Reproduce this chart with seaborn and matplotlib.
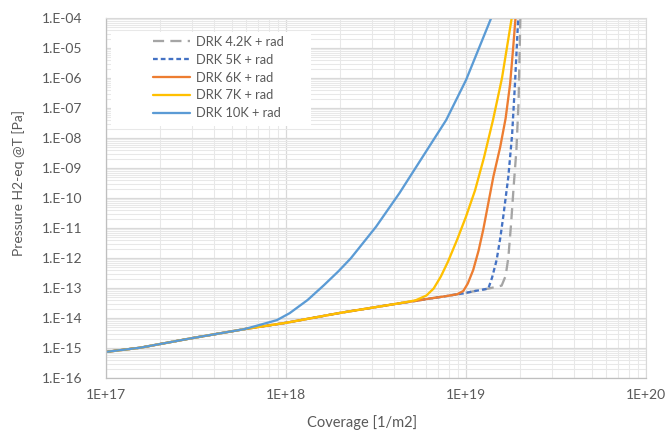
import numpy as np
import pandas as pd
import matplotlib
matplotlib.use("Agg")
import matplotlib.pyplot as plt
from matplotlib.patches import Rectangle
from matplotlib.ticker import FixedLocator, LogLocator, NullFormatter
import seaborn as sns

# ---- data: log10(coverage [1/m2]) and log10(pressure [Pa]) ----
labels = ["DRK 4.2K + rad", "DRK 5K + rad", "DRK 6K + rad", "DRK 7K + rad", "DRK 10K + rad"]
colors = ["#A5A5A5", "#4472C4", "#ED7D31", "#FFC000", "#5B9BD5"]

x42 = [17.0, 17.19, 17.47, 17.77, 18.0, 18.3, 18.63, 18.72, 18.80, 18.88, 18.95, 18.985,
       19.05, 19.124, 19.198, 19.22, 19.235, 19.25, 19.265, 19.28, 19.292, 19.302]
y42 = [-15.13, -14.99, -14.68, -14.37, -14.16, -13.83, -13.51, -13.43, -13.35, -13.28, -13.21, -13.18,
       -13.10, -13.02, -12.92, -12.60, -12.0, -10.9, -9.6, -8.4, -6.8, -4.0]

x5 = [17.0, 17.19, 17.47, 17.77, 18.0, 18.3, 18.63, 18.72, 18.80, 18.88, 18.95, 18.985,
      19.05, 19.124, 19.145, 19.17, 19.19, 19.207, 19.235, 19.256, 19.272, 19.29]
y5 = [-15.13, -14.99, -14.68, -14.37, -14.16, -13.83, -13.51, -13.43, -13.35, -13.28, -13.21, -13.18,
      -13.10, -13.02, -12.65, -12.07, -11.35, -10.62, -9.30, -7.90, -6.20, -4.0]

x6 = [17.0, 17.19, 17.47, 17.77, 18.0, 18.3, 18.63, 18.72, 18.80, 18.88, 18.95, 18.985,
      19.01, 19.04, 19.07, 19.096, 19.152, 19.19, 19.22, 19.245, 19.262, 19.275]
y6 = [-15.13, -14.99, -14.68, -14.37, -14.16, -13.83, -13.51, -13.43, -13.35, -13.28, -13.21, -13.10,
      -12.85, -12.40, -11.75, -11.05, -9.29, -8.30, -7.35, -6.20, -5.0, -4.0]

x7 = [17.0, 17.19, 17.47, 17.77, 18.0, 18.3, 18.63, 18.72, 18.78, 18.82, 18.86, 18.90,
      18.95, 19.00, 19.05, 19.10, 19.15, 19.20, 19.254]
y7 = [-15.13, -14.99, -14.68, -14.37, -14.16, -13.83, -13.51, -13.41, -13.25, -13.02, -12.62, -12.12,
      -11.40, -10.62, -9.75, -8.65, -7.40, -6.0, -4.0]

x10 = [17.0, 17.19, 17.47, 17.77, 17.95, 18.02, 18.12, 18.21, 18.29, 18.36, 18.50, 18.63,
       18.76, 18.89, 19.0, 19.14]
y10 = [-15.13, -14.99, -14.68, -14.37, -14.07, -13.84, -13.40, -12.91, -12.45, -12.01, -10.96, -9.84,
       -8.62, -7.40, -6.07, -4.0]

x_ticks = [1e17, 1e18, 1e19, 1e20]
x_ticklabels = ["1E+17", "1E+18", "1E+19", "1E+20"]
y_exps = list(range(-16, -3))
y_ticklabels = ["1.E%03d" % e for e in y_exps]

series_x = [x42, x5, x6, x7, x10]
series_y = [y42, y5, y6, y7, y10]
styles = [(0, (8.0, 4.5)), (0, (3.4, 2.2)), "-", "-", "-"]

# ---- figure ----
sns.set_style("white")
plt.rcParams["font.family"] = ["Lato", "DejaVu Sans"]
plt.rcParams["lines.scale_dashes"] = False

W, H = 671, 433
fig = plt.figure(figsize=(W / 100, H / 100), dpi=100)
L, R, T, B = 106, 646, 18, 378
ax = fig.add_axes([L / W, 1 - B / H, (R - L) / W, (B - T) / H])

for lab, c, ls, xs, ys in zip(labels, colors, styles, series_x, series_y):
    df = pd.DataFrame({"coverage": np.power(10.0, xs), "pressure": np.power(10.0, ys)})
    sns.lineplot(data=df, x="coverage", y="pressure", ax=ax, color=c, lw=1.65,
                 linestyle=ls, label=lab, sort=False, estimator=None)

ax.set_xscale("log")
ax.set_yscale("log")
ax.set_xlim(1e17, 1e20)
ax.set_ylim(1e-16, 1e-4)

ax.xaxis.set_major_locator(FixedLocator(x_ticks))
ax.set_xticklabels(x_ticklabels)
ax.yaxis.set_major_locator(FixedLocator([10.0 ** e for e in y_exps]))
ax.set_yticklabels(y_ticklabels)
ax.xaxis.set_minor_locator(LogLocator(base=10, subs=np.arange(2, 10)))
ax.yaxis.set_minor_locator(LogLocator(base=10, subs=np.arange(2, 10), numticks=30))
ax.xaxis.set_minor_formatter(NullFormatter())
ax.yaxis.set_minor_formatter(NullFormatter())

ax.grid(True, which="major", color="#D9D9D9", lw=0.9)
ax.grid(True, which="minor", color="#E8E8E8", lw=0.75)
ax.set_axisbelow(True)

ax.tick_params(which="both", length=0)
ax.tick_params(axis="y", pad=17, labelsize=10, labelcolor="#595959")
ax.tick_params(axis="x", pad=8, labelsize=10, labelcolor="#595959")

for s in ["top", "right"]:
    ax.spines[s].set_color("#D9D9D9")
    ax.spines[s].set_linewidth(0.8)
for s in ["left", "bottom"]:
    ax.spines[s].set_color("#BFBFBF")
    ax.spines[s].set_linewidth(0.9)

ax.set_xlabel("")
ax.set_ylabel("")
fig.text(362 / W, 1 - 423 / H, "Coverage [1/m2]", ha="center", va="center",
         fontsize=10.5, color="#595959")
fig.text(19 / W, 1 - 183 / H, "Pressure H2-eq @T [Pa]", ha="center", va="center",
         rotation=90, fontsize=10, color="#595959")

# white legend panel
ax.add_patch(Rectangle((111 / W, 1 - 126 / H), 200 / W, 94 / H, transform=fig.transFigure,
                       facecolor="white", edgecolor="none", zorder=1.5, clip_on=False))

leg = ax.legend(loc="upper left", bbox_to_anchor=(153 / W, 1 - 36 / H),
                bbox_transform=fig.transFigure, frameon=False, fontsize=9.3,
                handlelength=2.9, handletextpad=0.4, labelspacing=0.45,
                borderpad=0.0, borderaxespad=0.0)
for t in leg.get_texts():
    t.set_color("#595959")

fig.savefig("out.png", dpi=100, facecolor="white")
